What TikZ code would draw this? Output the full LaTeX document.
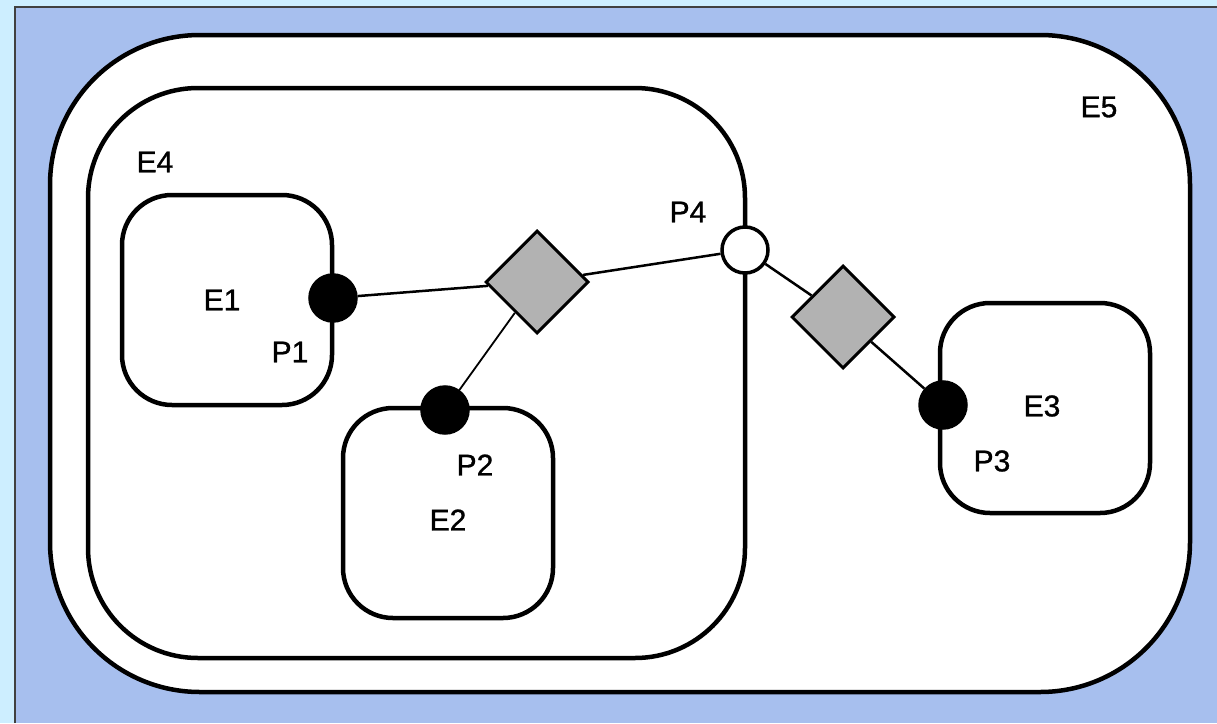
\documentclass[tikz,border=0pt]{standalone}
\usepackage{fontspec}
\setmainfont[FakeBold=1]{Liberation Sans}
\usetikzlibrary{shapes.geometric}
\definecolor{bgcyan}{HTML}{CDEEFF}
\definecolor{bgblue}{HTML}{A7BFEE}
\definecolor{dgray}{HTML}{B2B2B2}
\tikzset{
  ebox/.style={draw=black, line width=4.5pt, fill=white, inner sep=0pt},
  port/.style={circle, draw=black, line width=3.5pt, fill=black, minimum size=46pt, inner sep=0pt},
  openport/.style={circle, draw=black, line width=3.5pt, fill=white, minimum size=46pt, inner sep=0pt},
  dia/.style={diamond, aspect=1, draw=black, line width=3pt, fill=dgray, minimum width=103pt, minimum height=103pt, inner sep=0pt},
  conn/.style={draw=black, line width=2.5pt},
  lbl/.style={font=\fontsize{30pt}{34pt}\selectfont, inner sep=0pt}
}
\begin{document}
\begin{tikzpicture}[x=1pt,y=-1pt]
\useasboundingbox (0,0) rectangle (1217,723);
\fill[bgcyan] (0,0) rectangle (1217,723);
\fill[bgblue] (15,7) rectangle (1217,723);
\draw[line width=2.5pt, color=black!75] (15,723) -- (15,7) -- (1217,7);
% containers
\node[ebox, minimum width=1140pt, minimum height=657pt, rounded corners=150pt] (E5) at (620,363.5) {};
\node[ebox, minimum width=657pt, minimum height=570pt, rounded corners=110pt] (E4) at (416.5,373) {};
\node[ebox, minimum width=210pt, minimum height=210pt, rounded corners=50pt] (E1) at (227,300) {};
\node[ebox, minimum width=210pt, minimum height=210pt, rounded corners=50pt] (E2) at (448,513) {};
\node[ebox, minimum width=210pt, minimum height=210pt, rounded corners=50pt] (E3) at (1045,408) {};
% ports and diamonds
\node[port] (P1) at (333,298) {};
\node[port] (P2) at (445,410) {};
\node[port] (P3) at (943,405) {};
\node[openport] (P4) at (745,250) {};
\node[dia] (D1) at (537,282) {};
\node[dia] (D2) at (843,317) {};
% connectors
\draw[conn] (P1) -- (D1);
\draw[conn] (D1) -- (P4);
\draw[conn, line width=1.8pt] (D1) -- (P2);
\draw[conn] (P4) -- (D2);
\draw[conn] (D2) -- (P3);
% labels
\node[lbl] (lE5) at (1099,107) {E5};
\node[lbl] (lE4) at (155,162) {E4};
\node[lbl] (lE1) at (222,300) {E1};
\node[lbl] (lP1) at (290,352) {P1};
\node[lbl] (lP2) at (475,465) {P2};
\node[lbl] (lE2) at (448,520) {E2};
\node[lbl] (lP4) at (688,212) {P4};
\node[lbl] (lE3) at (1042,406) {E3};
\node[lbl] (lP3) at (992,461) {P3};
\end{tikzpicture}
\end{document}
